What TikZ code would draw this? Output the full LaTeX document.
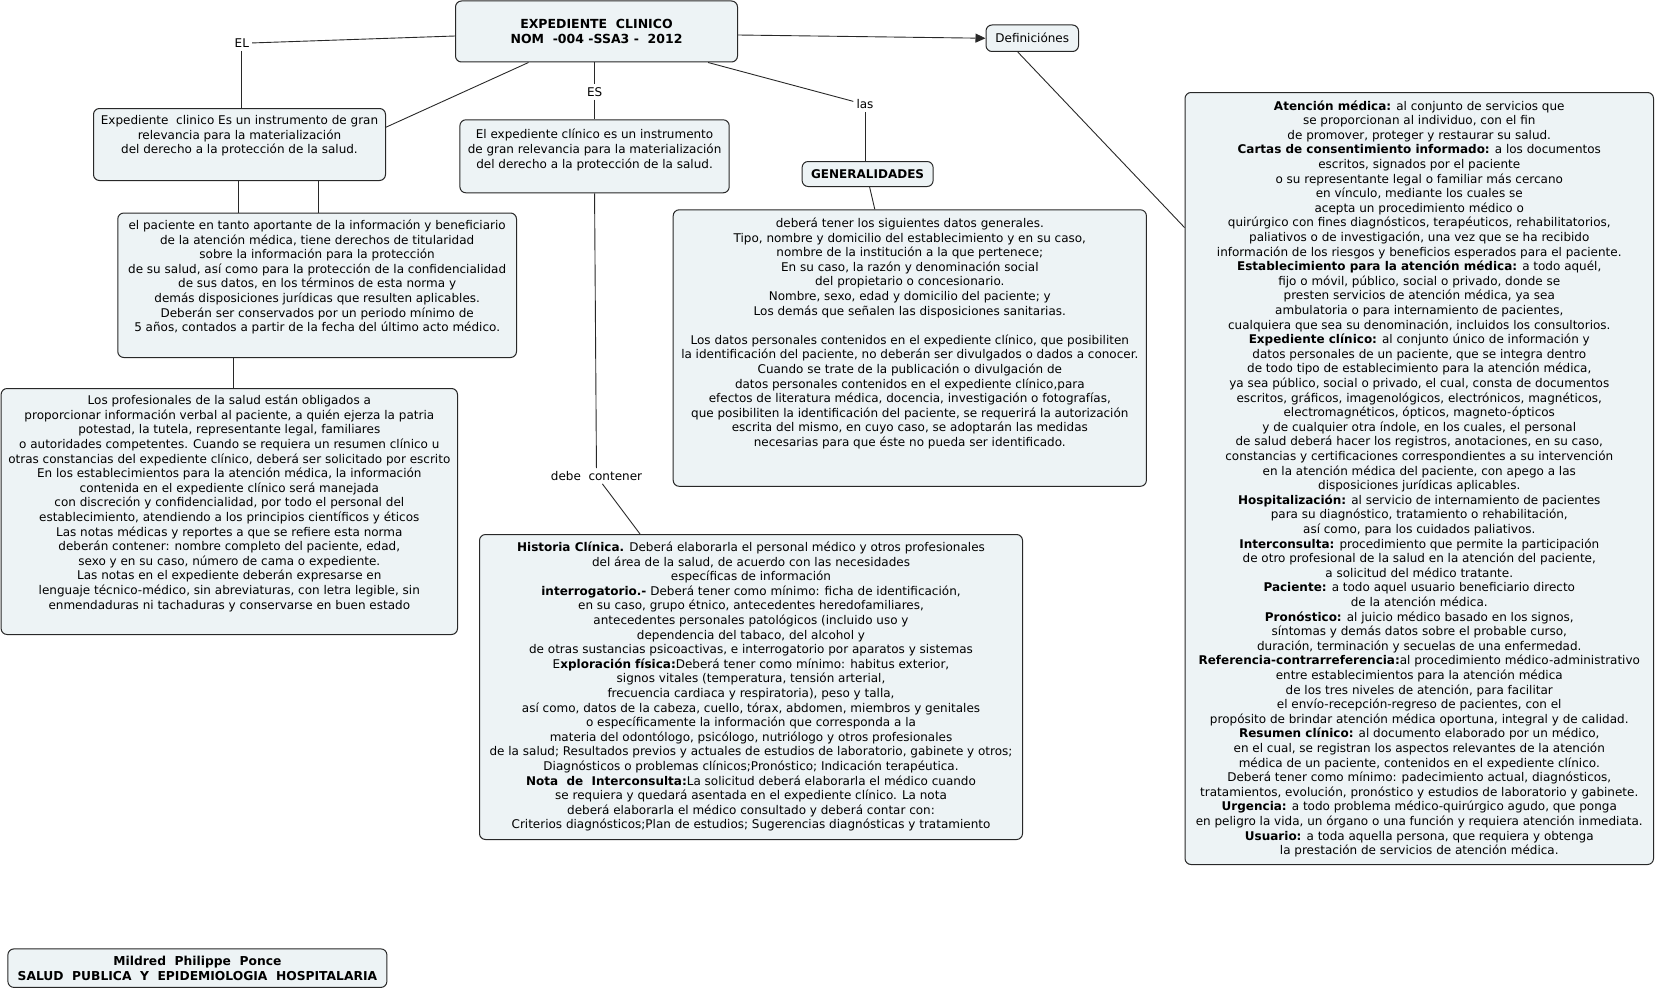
\documentclass[tikz,border=0pt]{standalone}
\usepackage{fontspec}
\setmainfont{DejaVu Sans}
\usetikzlibrary{arrows.meta}
\definecolor{boxfill}{RGB}{237,243,245}
\definecolor{edge}{RGB}{40,40,40}
\newcommand\fs{\fontsize{12pt}{14.6pt}\selectfont}
\newcommand\bt[4]{\parbox[c][#2][t]{#1}{\vspace*{#3}\makebox[#1]{\begin{tabular}[t]{@{}c@{}}#4\end{tabular}}}}
\begin{document}
\begin{tikzpicture}[x=1pt,y=-1pt,
  box/.style={draw=edge, line width=1pt, fill=boxfill, rounded corners=6pt, inner sep=0pt, anchor=north west, font=\fs},
  cbox/.style={draw=edge, line width=1pt, fill=boxfill, rounded corners=6pt, inner sep=0pt, anchor=north west, align=center},
  lbl/.style={inner sep=3pt, font=\fs},
  conn/.style={draw=edge, line width=0.9pt}]
\useasboundingbox (0,0) rectangle (1656,990);

% main
\node[cbox, minimum width=282pt, minimum height=61pt, font=\bfseries\fontsize{12.5pt}{15pt}\selectfont] (main) at (455,0.5)
  {EXPEDIENTE\ \ CLINICO\\NOM\ \ -004 -SSA3 -\ \ 2012};

\node[cbox, minimum width=92.5pt, minimum height=26.5pt, font=\fs] (def) at (985.5,24.5) {Definiciónes};

\node[cbox, minimum width=131pt, minimum height=25pt, font=\bfseries\fs] (gen) at (801.6,161) {GENERALIDADES};

\node[cbox, minimum width=379pt, minimum height=38.5pt, font=\bfseries\fontsize{12.3pt}{14.8pt}\selectfont] (foot) at (7.4,948.4)
  {Mildred\ \ Philippe\ \ Ponce\\SALUD\ \ PUBLICA\ \ Y\ \ EPIDEMIOLOGIA\ \ HOSPITALARIA};

\node[box] (box1) at (93,108) {\bt{292pt}{72pt}{5.8pt}{%
Expediente\ \ clinico Es un instrumento de gran\\
relevancia para la materialización\\
del derecho a la protección de la salud.}};

\node[box] (box2) at (459.4,119.3) {\bt{269.3pt}{73pt}{8.8pt}{%
El expediente clínico es un instrumento\\
de gran relevancia para la materialización\\
del derecho a la protección de la salud.}};

\node[box] (box3) at (117.3,212.5) {\bt{398.7pt}{144.5pt}{6.2pt}{%
el paciente en tanto aportante de la información y beneficiario\\
de la atención médica, tiene derechos de titularidad\\
sobre la información para la protección\\
de su salud, así como para la protección de la confidencialidad\\
de sus datos, en los términos de esta norma y\\
demás disposiciones jurídicas que resulten aplicables.\\
Deberán ser conservados por un periodo mínimo de\\
5 años, contados a partir de la fecha del último acto médico.}};

\node[box] (box4) at (0.6,388) {\bt{456.4pt}{246pt}{6pt}{%
Los profesionales de la salud están obligados a\\
proporcionar información verbal al paciente, a quién ejerza la patria\\
potestad, la tutela, representante legal, familiares\\
o autoridades competentes. Cuando se requiera un resumen clínico u\\
otras constancias del expediente clínico, deberá ser solicitado por escrito\\
En los establecimientos para la atención médica, la información\\
contenida en el expediente clínico será manejada\\
con discreción y confidencialidad, por todo el personal del\\
establecimiento, atendiendo a los principios científicos y éticos\\
Las notas médicas y reportes a que se refiere esta norma\\
deberán contener: nombre completo del paciente, edad,\\
sexo y en su caso, número de cama o expediente.\\
Las notas en el expediente deberán expresarse en\\
lenguaje técnico-médico, sin abreviaturas, con letra legible, sin\\
enmendaduras ni tachaduras y conservarse en buen estado}};

\node[box] (genbox) at (672.7,209.3) {\bt{473.2pt}{276.5pt}{7.5pt}{%
deberá tener los siguientes datos generales.\\
Tipo, nombre y domicilio del establecimiento y en su caso,\\
nombre de la institución a la que pertenece;\\
En su caso, la razón y denominación social\\
del propietario o concesionario.\\
Nombre, sexo, edad y domicilio del paciente; y\\
Los demás que señalen las disposiciones sanitarias.\\
\\
Los datos personales contenidos en el expediente clínico, que posibiliten\\
la identificación del paciente, no deberán ser divulgados o dados a conocer.\\
Cuando se trate de la publicación o divulgación de\\
datos personales contenidos en el expediente clínico,para\\
efectos de literatura médica, docencia, investigación o fotografías,\\
que posibiliten la identificación del paciente, se requerirá la autorización\\
escrita del mismo, en cuyo caso, se adoptarán las medidas\\
necesarias para que éste no pueda ser identificado.}};

\node[box] (hist) at (479,534) {\bt{543pt}{305pt}{6.8pt}{%
\textbf{Historia Clínica.} Deberá elaborarla el personal médico y otros profesionales\\
del área de la salud, de acuerdo con las necesidades\\
específicas de información\\
\textbf{interrogatorio.-} Deberá tener como mínimo: ficha de identificación,\\
en su caso, grupo étnico, antecedentes heredofamiliares,\\
antecedentes personales patológicos (incluido uso y\\
dependencia del tabaco, del alcohol y\\
de otras sustancias psicoactivas, e interrogatorio por aparatos y sistemas\\
E\textbf{xploración física:}Deberá tener como mínimo: habitus exterior,\\
signos vitales (temperatura, tensión arterial,\\
frecuencia cardiaca y respiratoria), peso y talla,\\
así como, datos de la cabeza, cuello, tórax, abdomen, miembros y genitales\\
o específicamente la información que corresponda a la\\
materia del odontólogo, psicólogo, nutriólogo y otros profesionales\\
de la salud; Resultados previos y actuales de estudios de laboratorio, gabinete y otros;\\
Diagnósticos o problemas clínicos;Pronóstico; Indicación terapéutica.\\
\textbf{Nota\ \ de\ \ Interconsulta:}La solicitud deberá elaborarla el médico cuando\\
se requiera y quedará asentada en el expediente clínico. La nota\\
deberá elaborarla el médico consultado y deberá contar con:\\
Criterios diagnósticos;Plan de estudios; Sugerencias diagnósticas y tratamiento}};

\node[box] (defs) at (1184.5,92) {\bt{468.5pt}{772pt}{7.4pt}{%
\textbf{Atención médica:} al conjunto de servicios que\\
se proporcionan al individuo, con el fin\\
de promover, proteger y restaurar su salud.\\
\textbf{Cartas de consentimiento informado:} a los documentos\\
escritos, signados por el paciente\\
o su representante legal o familiar más cercano\\
en vínculo, mediante los cuales se\\
acepta un procedimiento médico o\\
quirúrgico con fines diagnósticos, terapéuticos, rehabilitatorios,\\
paliativos o de investigación, una vez que se ha recibido\\
información de los riesgos y beneficios esperados para el paciente.\\
\textbf{Establecimiento para la atención médica:} a todo aquél,\\
fijo o móvil, público, social o privado, donde se\\
presten servicios de atención médica, ya sea\\
ambulatoria o para internamiento de pacientes,\\
cualquiera que sea su denominación, incluidos los consultorios.\\
\textbf{Expediente clínico:} al conjunto único de información y\\
datos personales de un paciente, que se integra dentro\\
de todo tipo de establecimiento para la atención médica,\\
ya sea público, social o privado, el cual, consta de documentos\\
escritos, gráficos, imagenológicos, electrónicos, magnéticos,\\
electromagnéticos, ópticos, magneto-ópticos\\
y de cualquier otra índole, en los cuales, el personal\\
de salud deberá hacer los registros, anotaciones, en su caso,\\
constancias y certificaciones correspondientes a su intervención\\
en la atención médica del paciente, con apego a las\\
disposiciones jurídicas aplicables.\\
\textbf{Hospitalización:} al servicio de internamiento de pacientes\\
para su diagnóstico, tratamiento o rehabilitación,\\
así como, para los cuidados paliativos.\\
\textbf{Interconsulta:} procedimiento que permite la participación\\
de otro profesional de la salud en la atención del paciente,\\
a solicitud del médico tratante.\\
\textbf{Paciente:} a todo aquel usuario beneficiario directo\\
de la atención médica.\\
\textbf{Pronóstico:} al juicio médico basado en los signos,\\
síntomas y demás datos sobre el probable curso,\\
duración, terminación y secuelas de una enfermedad.\\
\textbf{Referencia-contrarreferencia:}al procedimiento médico-administrativo\\
entre establecimientos para la atención médica\\
de los tres niveles de atención, para facilitar\\
el envío-recepción-regreso de pacientes, con el\\
propósito de brindar atención médica oportuna, integral y de calidad.\\
\textbf{Resumen clínico:} al documento elaborado por un médico,\\
en el cual, se registran los aspectos relevantes de la atención\\
médica de un paciente, contenidos en el expediente clínico.\\
Deberá tener como mínimo: padecimiento actual, diagnósticos,\\
tratamientos, evolución, pronóstico y estudios de laboratorio y gabinete.\\
\textbf{Urgencia:} a todo problema médico-quirúrgico agudo, que ponga\\
en peligro la vida, un órgano o una función y requiera atención inmediata.\\
\textbf{Usuario:} a toda aquella persona, que requiera y obtenga\\
la prestación de servicios de atención médica.}};

% labels
\node[lbl] (EL) at (241.8,43.3) {EL};
\node[lbl] (ES) at (594.6,91.9) {ES};
\node[lbl] (las) at (865,104.5) {las};
\node[lbl] (debe) at (596.5,476) {debe\ \ contener};

% connectors
\draw[conn] ([yshift=-4.5pt]main.west) -- (EL);
\draw[conn] (EL) -- (EL |- box1.north);
\draw[conn] ([xshift=-68pt]main.south) -- ([yshift=17.3pt]box1.east);
\draw[conn] (main.south -| ES) -- (ES);
\draw[conn] (ES) -- (ES |- box2.north);
\draw[conn] (box2.south) -- (debe);
\draw[conn] (debe) -- ([xshift=-111pt]hist.north);
\draw[conn] ([xshift=111.6pt]main.south) -- (las);
\draw[conn] (las) -- (las |- gen.north);
\draw[conn] ([xshift=2pt]gen.south) -- ([xshift=-35pt]genbox.north);
\draw[conn, -{Triangle[length=10pt,width=9pt]}] ([yshift=-3.5pt]main.east) -- (def.west);
\draw[conn] ([xshift=-14.5pt]def.south) -- ([yshift=251pt]defs.west);
\draw[conn] ([xshift=-1pt]box1.south) -- ([xshift=-1pt]box1.south |- box3.north);
\draw[conn] ([xshift=79pt]box1.south) -- ([xshift=79pt]box1.south |- box3.north);
\draw[conn] ([xshift=-83.6pt]box3.south) -- ([xshift=-83.6pt]box3.south |- box4.north);
\end{tikzpicture}
\end{document}
